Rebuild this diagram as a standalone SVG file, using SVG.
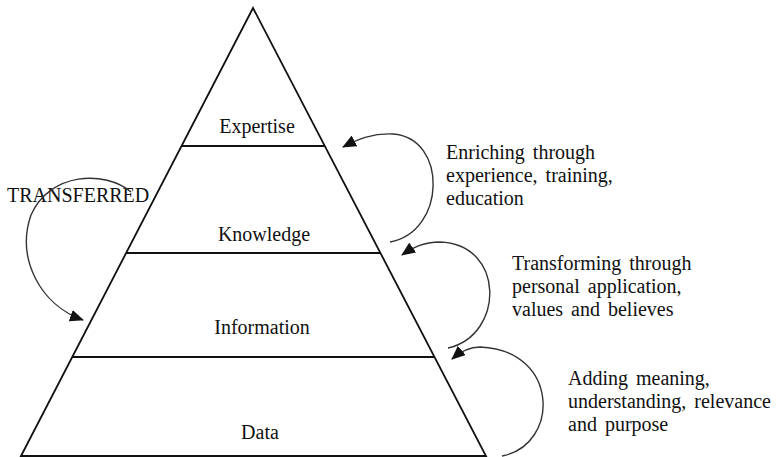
<svg xmlns="http://www.w3.org/2000/svg" width="778" height="457" viewBox="0 0 778 457">
  <style>
    .edge { fill: none; stroke: #111; stroke-width: 1.8; }
    .arc { fill: none; stroke: #333; stroke-width: 1.4; }
    .label { font-family: "Liberation Serif", "Times New Roman", serif; font-size: 20px; fill: #111; }
    .note { word-spacing: 3px; }
    .mid { text-anchor: middle; }
  </style>
  <defs>
    <marker id="head" markerUnits="userSpaceOnUse" markerWidth="14" markerHeight="12" refX="13" refY="6" orient="auto">
      <path d="M0,0 L14,6 L0,12 Z" fill="#111"/>
    </marker>
  </defs>
  <rect width="778" height="457" fill="#fff"/>

  <!-- pyramid outline -->
  <g id="pyramid">
    <path class="edge" d="M21,456 L253,8 L486,456 Z"/>
  </g>

  <!-- pyramid tiers -->
  <g id="expertise">
    <line class="edge" x1="181" y1="146" x2="325" y2="146"/>
    <text class="label mid" x="257" y="133">Expertise</text>
  </g>
  <g id="knowledge">
    <line class="edge" x1="126" y1="253" x2="380" y2="253"/>
    <text class="label mid" x="264" y="241">Knowledge</text>
  </g>
  <g id="information">
    <line class="edge" x1="72" y1="357" x2="434" y2="357"/>
    <text class="label mid" x="262" y="334">Information</text>
  </g>
  <g id="data">
    <text class="label mid" x="260" y="439">Data</text>
  </g>

  <!-- side annotations -->
  <g id="note-transferred">
    <text class="label" x="7" y="202">TRANSFERRED</text>
  </g>
  <g id="note-enriching">
    <text class="label note" x="446" y="159">Enriching through</text>
    <text class="label note" x="446" y="182">experience, training,</text>
    <text class="label note" x="446" y="205">education</text>
  </g>
  <g id="note-transforming">
    <text class="label note" x="512" y="270">Transforming through</text>
    <text class="label note" x="512" y="293">personal application,</text>
    <text class="label note" x="512" y="316">values and believes</text>
  </g>
  <g id="note-adding">
    <text class="label note" x="568" y="385">Adding meaning,</text>
    <text class="label note" x="568" y="408">understanding, relevance</text>
    <text class="label note" x="568" y="431">and purpose</text>
  </g>

  <!-- curved connectors -->
  <g id="connectors">
    <path class="arc" marker-end="url(#head)" d="M390,242 C446,232 448,138 393,134 C373,133 358,139 343,147"/>
    <path class="arc" marker-end="url(#head)" d="M448,348 C505,335 505,244 440,242 C423,242 412,248 402,255"/>
    <path class="arc" marker-end="url(#head)" d="M502,456 C560,445 560,350 480,347 C468,347 460,352 452,359"/>
    <path class="arc" marker-end="url(#head)" d="M131,192 C105,170 50,172 31,215 C16,258 40,305 83,320"/>
  </g>
</svg>
